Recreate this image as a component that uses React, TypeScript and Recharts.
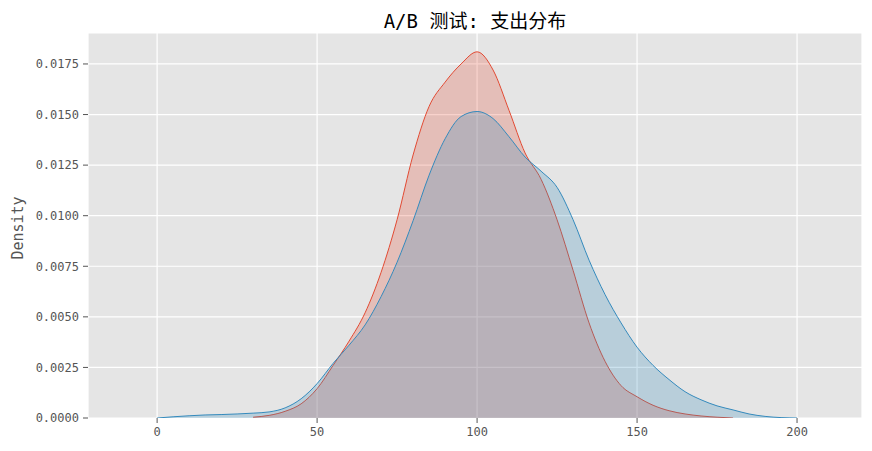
import React from 'react';
import { AreaChart, Area, XAxis, YAxis, CartesianGrid } from 'recharts';

// spend values (x) and KDE density for the two groups
const spend = [0, 5, 10, 15, 20, 25, 30, 35, 40, 45, 50, 55, 60, 65, 70, 75, 80, 85, 90, 95, 100,
    105, 110, 115, 120, 125, 130, 135, 140, 145, 150, 155, 160, 165, 170, 175, 180, 185, 190, 195, 200];

const groupA: (number | null)[] = [null, null, null, null, null, null, 0.00004, 0.00013, 0.00033, 0.0007, 0.00145,
    0.0026, 0.0038, 0.0052, 0.0072, 0.0098, 0.013, 0.0154, 0.0166, 0.0175, 0.0181,
    0.0172, 0.0152, 0.0131, 0.0118, 0.0098, 0.0073, 0.0047, 0.0028, 0.0016, 0.00105,
    0.00063, 0.00036, 0.0002, 0.0001, 0.00004, 0, null, null, null, null];

const groupB = [0, 0.00006, 0.00011, 0.00015, 0.00017, 0.0002, 0.00024, 0.0003, 0.0005, 0.00095, 0.0017,
    0.0027, 0.0036, 0.0046, 0.006, 0.0077, 0.00975, 0.012, 0.0138, 0.0149, 0.01515,
    0.0148, 0.0139, 0.0129, 0.0122, 0.0114, 0.0098, 0.0078, 0.0061, 0.0047, 0.0035,
    0.0026, 0.0019, 0.0013, 0.0009, 0.0006, 0.0004, 0.0002, 0.00008, 0.00002, 0];

const xTicks = [0, 50, 100, 150, 200];
const yTicks = [0, 0.0025, 0.005, 0.0075, 0.01, 0.0125, 0.015, 0.0175];

const data = spend.map((x, i) => ({ x, a: groupA[i], b: groupB[i] }));

const tickStyle = { fill: '#555555', fontSize: 12, fontFamily: '"DejaVu Sans Mono", monospace' };

const App: React.FC = () => {
    return (
        <div style={{ position: 'absolute', left: 0, top: 0, width: 872, height: 451, background: '#fff' }}>
            <div style={{
                position: 'absolute', left: 88, width: 774, top: 6, textAlign: 'center',
                fontSize: 19, fontFamily: '"DejaVu Sans Mono", "Noto Sans CJK SC", monospace', color: '#000',
            }}>
                A/B 测试: 支出分布
            </div>
            <div style={{
                position: 'absolute', left: 18, top: 228, transform: 'translate(-50%, -50%) rotate(-90deg)',
                fontSize: 15, fontFamily: '"DejaVu Sans Mono", monospace', color: '#555555', whiteSpace: 'nowrap',
            }}>
                Density
            </div>
            <AreaChart width={872} height={451} data={data} margin={{ top: 33, right: 10, left: 0, bottom: 0 }}>
                <CartesianGrid stroke="#ffffff" strokeWidth={1.2} fill="#E5E5E5" />
                <XAxis
                    dataKey="x" type="number" domain={[-21.6, 220.3]} allowDataOverflow ticks={xTicks}
                    height={33} axisLine={false} tickSize={5} tickLine={{ stroke: '#555555' }}
                    tick={tickStyle} tickMargin={4}
                />
                <YAxis
                    type="number" domain={[0, 0.01903]} allowDataOverflow ticks={yTicks} width={88}
                    axisLine={false} tickSize={5} tickLine={{ stroke: '#555555' }} tick={tickStyle}
                    tickMargin={4} tickFormatter={(v: number) => v.toFixed(4)}
                />
                <Area dataKey="a" type="monotone" stroke="#E24A33" strokeWidth={1} fill="#E24A33"
                    fillOpacity={0.25} isAnimationActive={false} dot={false} activeDot={false} />
                <Area dataKey="b" type="monotone" stroke="#348ABD" strokeWidth={1} fill="#348ABD"
                    fillOpacity={0.25} isAnimationActive={false} dot={false} activeDot={false} />
            </AreaChart>
        </div>
    );
};

export default App;
